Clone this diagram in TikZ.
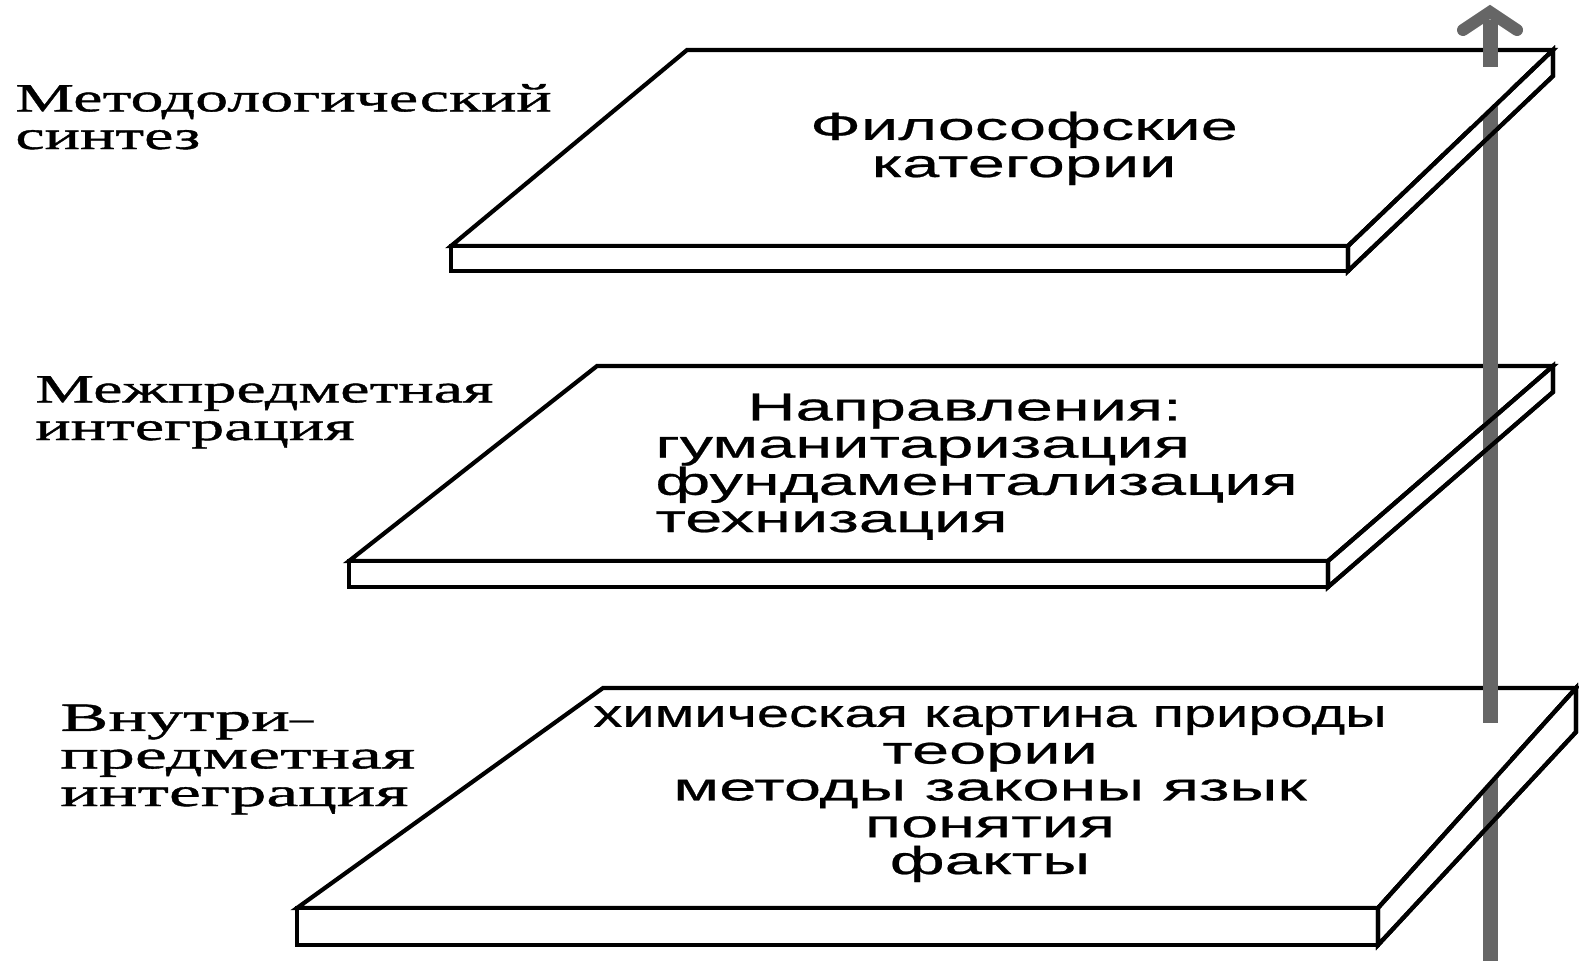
\documentclass[tikz,border=0pt]{standalone}
\usepackage{fontspec}
\newfontfamily\slabfont[FakeStretch=1.71,FakeBold=0.6]{Liberation Sans}
\newfontfamily\labfont[FakeStretch=1.65,FakeBold=1]{Liberation Serif}
\newfontfamily\labfontwide[FakeStretch=1.8,FakeBold=1]{Liberation Serif}
\definecolor{arrowgray}{HTML}{666666}
\begin{document}
\begin{tikzpicture}[x=0.5pt,y=-0.5pt,
  slab/.style={draw=black,fill=white,line width=2.1pt,line join=miter},
  edge/.style={draw=black,line width=2.1pt,line join=miter},
  arrowline/.style={draw=arrowgray,line width=7.5pt},
  sanstext/.style={font=\slabfont\fontsize{19.5pt}{18.6pt}\selectfont,inner sep=0pt},
  serieftext/.style={font=\labfont\fontsize{20pt}{18.8pt}\selectfont,inner sep=0pt,align=left}]
\useasboundingbox (0,0) rectangle (1579,960);
% top slab
\coordinate (t1) at (687,50); \coordinate (t2) at (1553,50);
\coordinate (t3) at (1348,246); \coordinate (t4) at (451,246);
\coordinate (t5) at (451,271); \coordinate (t6) at (1348,271);
\coordinate (t7) at (1553,76);
% middle slab
\coordinate (m1) at (597,366); \coordinate (m2) at (1553,366);
\coordinate (m3) at (1328,561); \coordinate (m4) at (349,561);
\coordinate (m5) at (349,587); \coordinate (m6) at (1328,587);
\coordinate (m7) at (1553,392);
% bottom slab
\coordinate (b1) at (603,688); \coordinate (b2) at (1576,688);
\coordinate (b3) at (1378,908); \coordinate (b4) at (297,908);
\coordinate (b5) at (297,945); \coordinate (b6) at (1378,945);
\coordinate (b7) at (1576,732);
\foreach \s in {t,m,b}{
  \path[slab] (\s1)--(\s2)--(\s3)--(\s4)--cycle;
  \path[slab] (\s4)--(\s3)--(\s6)--(\s5)--cycle;
  \path[slab] (\s3)--(\s2)--(\s7)--(\s6)--cycle;
}
% arrow
\coordinate (ab) at (1490,962);
\coordinate (at) at (1490,20);
\coordinate (hl) at (1463,30);
\coordinate (ht) at (1490,12);
\coordinate (hr) at (1517,30);
\draw[arrowline] (ab) -- (at);
\draw[arrowline,line width=6pt,line cap=round,line join=miter] (hl) -- (ht) -- (hr);
% parts of the arrow hidden by the upper faces
\begin{scope}
  \clip (t1)--(t2)--(t3)--(t4)--cycle;
  \fill[white] (1470,67) rectangle (1510,260);
\end{scope}
\begin{scope}
  \clip (b1)--(b2)--(b3)--(b4)--cycle;
  \fill[white] (1470,723) rectangle (1510,920);
\end{scope}
\foreach \s in {t,m,b}{
  \path[edge] (\s3)--(\s2)--(\s7)--(\s6)--cycle;
}
% texts on slabs (anchor = baseline of the last line)
\node[sanstext,align=center,anchor=base] (philo) at (1024,177) {Философские\\категории};
\node[sanstext,align=left,anchor=base west] (dirs) at (655,532) {\hspace*{46pt}Направления:\\гуманитаризация\\фундаментализация\\технизация};
\node[sanstext,align=center,anchor=base,font=\slabfont\fontsize{19.5pt}{18.4pt}\selectfont] (chem) at (990,874) {\scalebox{0.867}[1]{химическая картина природы}\\теории\\методы законы язык\\понятия\\факты};
% level labels
\node[serieftext,anchor=base west] (lab1) at (15,149) {Методологический\\синтез};
\node[serieftext,anchor=base west] (lab2) at (35,440) {Межпредметная\\интеграция};
\node[serieftext,anchor=base west,font=\labfontwide\fontsize{20pt}{18.8pt}\selectfont] (lab3) at (60,806) {Внутри\scalebox{0.65}[1]{–}\\предметная\\интеграция};
\end{tikzpicture}
\end{document}
